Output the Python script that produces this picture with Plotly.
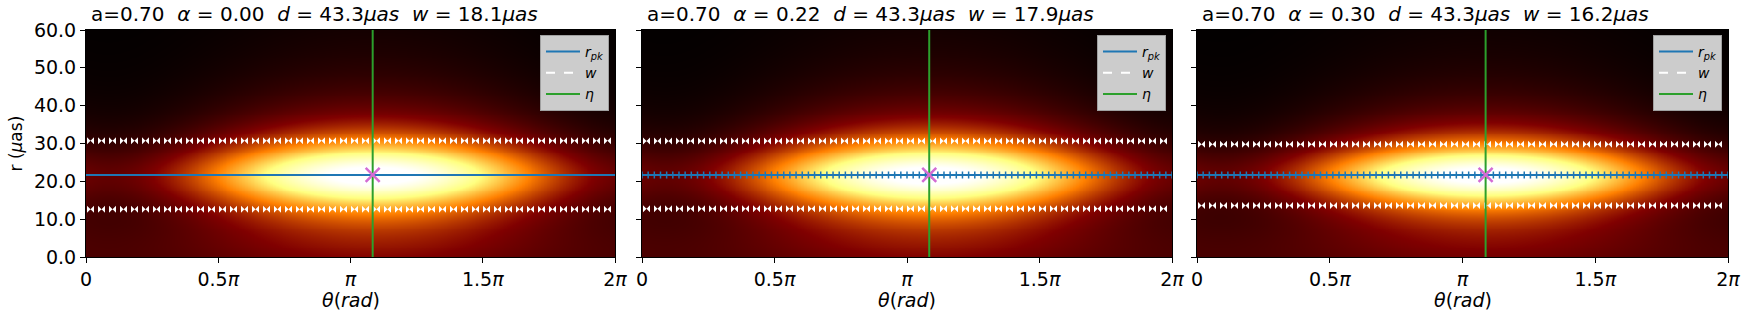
import numpy as np
import plotly.graph_objects as go

# ---------------- data ----------------
spin = [0.70, 0.70, 0.70]
alpha = [0.00, 0.22, 0.30]
diam = [43.3, 43.3, 43.3]
width_w = [18.1, 17.9, 16.2]
r_pk = [21.7, 21.7, 21.7]
eta = [3.405, 3.405, 3.415]
asym = [0.70, 0.70, 0.70]          # brightness asymmetry of the model image
show_pk_markers = [False, True, True]

x_tickvals = [0, np.pi / 2, np.pi, 3 * np.pi / 2, 2 * np.pi]
x_ticktext = ["0", "0.5<i>π</i>", "<i>π</i>", "1.5<i>π</i>", "2<i>π</i>"]
y_tickvals = [0, 10, 20, 30, 40, 50, 60]
y_ticktext = ["0.0", "10.0", "20.0", "30.0", "40.0", "50.0", "60.0"]

# ---------------- figure geometry (pixels) ----------------
W, H = 1745, 317
panels_px = [(86, 615), (642, 1172), (1197, 1728)]
top_px, bot_px = 30, 257


def fx(px):
    return px / W


def fy(py):
    return 1 - py / H


afmhot = [[0.0, "rgb(0,0,0)"], [0.25, "rgb(128,0,0)"], [0.5, "rgb(255,128,0)"],
          [0.75, "rgb(255,255,128)"], [1.0, "rgb(255,255,255)"]]

theta = np.linspace(0, 2 * np.pi, 360)
rr = np.linspace(0, 60, 240)


def model_image(r0, w, e, A):
    T, R = np.meshgrid(theta, rr)
    gam = (w / 2) / 0.884
    radial = (1 + ((R - r0) / gam) ** 2) ** -1.2
    azim = (1 + A * np.cos(T - e)) / (1 + A)
    floor = 0.12 * np.exp(-(R / 12) ** 2)
    return np.clip(1.05 * (azim * radial) + floor, 0, 1)


fig = go.Figure()
layout_extra = {}
annotations = []
font_main = "DejaVu Sans, sans-serif"

for i in range(3):
    xa = "x" if i == 0 else f"x{i+1}"
    ya = "y" if i == 0 else f"y{i+1}"
    lg = "legend" if i == 0 else f"legend{i+1}"
    x0p, x1p = panels_px[i]
    pw = x1p - x0p
    r0, w, e = r_pk[i], width_w[i], eta[i]

    fig.add_trace(go.Heatmap(x=theta, y=rr, z=model_image(r0, w, e, asym[i]),
                             colorscale=afmhot, zmin=0, zmax=1, zsmooth="best",
                             showscale=False, hoverinfo="skip", xaxis=xa, yaxis=ya))

    # w bounds: white dashed marks
    step = 2 * np.pi * 11 / pw
    off = 2 * np.pi * 4.5 / pw
    th_w = off + step * np.arange(int((2 * np.pi - off) / step) + 1)
    for rv in (r0 + w / 2, r0 - w / 2):
        fig.add_trace(go.Scatter(x=th_w, y=np.full(len(th_w), rv), mode="markers",
                                 marker=dict(symbol="bowtie", size=7, color="white",
                                             line=dict(width=0)),
                                 showlegend=False, hoverinfo="skip", xaxis=xa, yaxis=ya))

    # r_pk line
    th_pk = np.linspace(0, 2 * np.pi, 87)
    fig.add_trace(go.Scatter(x=th_pk, y=np.full(len(th_pk), r0),
                             mode="lines+markers" if show_pk_markers[i] else "lines",
                             line=dict(color="#1f77b4", width=2),
                             marker=dict(symbol="cross-thin", size=5,
                                         line=dict(width=1.5, color="#1f77b4")),
                             showlegend=False, hoverinfo="skip", xaxis=xa, yaxis=ya))
    # eta line
    fig.add_trace(go.Scatter(x=[e, e], y=[0, 60], mode="lines",
                             line=dict(color="#2ca02c", width=2),
                             showlegend=False, hoverinfo="skip", xaxis=xa, yaxis=ya))
    # peak marker
    fig.add_trace(go.Scatter(x=[e], y=[r0], mode="markers",
                             marker=dict(symbol="x-thin", size=14,
                                         line=dict(width=2.5, color="#d36bd3")),
                             showlegend=False, hoverinfo="skip", xaxis=xa, yaxis=ya))

    # legend entries
    for name, col, dash in (("<i>r</i><sub><i>pk</i></sub>", "#1f77b4", "solid"),
                            ("<i>w</i>", "white", "dash"),
                            ("<i>η</i>", "#2ca02c", "solid")):
        fig.add_trace(go.Scatter(x=[None], y=[None], mode="lines", name=name,
                                 line=dict(color=col, width=2, dash=dash),
                                 legend=lg, xaxis=xa, yaxis=ya))

    layout_extra[lg] = dict(x=fx(x1p - 6), xanchor="right", y=fy(35), yanchor="top",
                            bgcolor="#cccccc", bordercolor="#a0a0a0", borderwidth=1,
                            font=dict(family=font_main, size=14, color="black"),
                            itemwidth=34, tracegroupgap=0)

    xkey = "xaxis" if i == 0 else f"xaxis{i+1}"
    ykey = "yaxis" if i == 0 else f"yaxis{i+1}"
    layout_extra[xkey] = dict(domain=[fx(x0p), fx(x1p)], anchor=ya, range=[0, 2 * np.pi],
                              tickvals=x_tickvals, ticktext=x_ticktext, ticks="outside",
                              ticklen=5, tickwidth=1, tickcolor="black", automargin=False,
                              showline=True, linecolor="black", linewidth=1, mirror=True,
                              showgrid=False, zeroline=False,
                              tickfont=dict(family=font_main, size=19, color="black"))
    layout_extra[ykey] = dict(domain=[fy(bot_px), fy(top_px)], anchor=xa,
                              range=[0, 60], tickvals=y_tickvals, ticktext=y_ticktext,
                              showticklabels=(i == 0), ticks="outside", ticklen=5,
                              tickwidth=1, tickcolor="black", showline=True, automargin=False,
                              linecolor="black", linewidth=1, mirror=True,
                              showgrid=False, zeroline=False,
                              tickfont=dict(family=font_main, size=19, color="black"))

    sp = "\u00a0\u00a0"
    title = (f"a={spin[i]:.2f}{sp}<i>α</i> = {alpha[i]:.2f}{sp}<i>d</i> = {diam[i]:.1f}<i>μas</i>"
             f"{sp}<i>w</i> = {width_w[i]:.1f}<i>μas</i>")
    annotations.append(dict(text=title, x=fx(x0p + 228), y=fy(14), xref="paper",
                            yref="paper", xanchor="center", yanchor="middle", showarrow=False,
                            font=dict(family=font_main, size=20, color="black")))
    annotations.append(dict(text="<i>θ</i>(<i>rad</i>)", x=fx((x0p + x1p) / 2), y=fy(300),
                            xref="paper", yref="paper", xanchor="center", yanchor="middle",
                            showarrow=False, font=dict(family=font_main, size=19, color="black")))

annotations.append(dict(text="r (<i>μ</i>as)", x=fx(15), y=fy(143.5), xref="paper",
                        yref="paper", xanchor="center", yanchor="middle", textangle=-90,
                        showarrow=False, font=dict(family=font_main, size=17, color="black")))

fig.update_layout(width=W, height=H, margin=dict(l=0, r=0, t=0, b=0, pad=0, autoexpand=False),
                  paper_bgcolor="white", plot_bgcolor="white",
                  annotations=annotations, **layout_extra)

fig.write_html("out.html", config={"displayModeBar": False},
               post_script="document.body.style.margin='0';document.body.style.overflow='hidden';")
